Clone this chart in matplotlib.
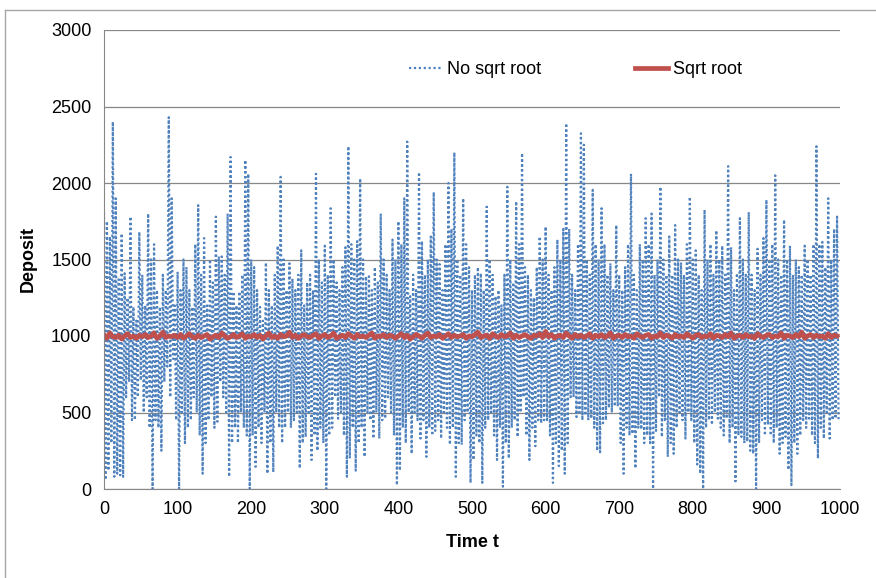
import numpy as np
import matplotlib.pyplot as plt

# deposit without sqrt root, every 2 time steps
no_sqrt = [
    1810, 60, 1750, 120, 1650, 300, 2400, 80, 1900, 100,
    1370, 90, 1670, 80, 1410, 600, 1250, 700, 1780, 450,
    1190, 450, 1100, 600, 1680, 710, 1400, 500, 1200, 600,
    1800, 400, 1500, 0, 1600, 450, 1300, 400, 1190, 250,
    1400, 700, 1300, 800, 2430, 600, 1900, 850, 1200, 450,
    1420, 0, 1300, 500, 1500, 300, 1450, 400, 1300, 450,
    1190, 600, 1600, 500, 1855, 350, 1400, 100, 1640, 300,
    1200, 450, 1500, 600, 1350, 400, 1780, 440, 1520, 700,
    1520, 600, 1400, 500, 1800, 80, 2170, 300, 1290, 400,
    1200, 300, 1290, 500, 1400, 400, 2150, 350, 2060, 0,
    1500, 350, 1450, 145, 1300, 400, 1190, 300, 1100, 500,
    1480, 100, 1300, 300, 1200, 110, 1400, 500, 1590, 400,
    2040, 300, 1500, 400, 1300, 500, 1475, 400, 1375, 450,
    1300, 500, 1400, 135, 1560, 300, 1200, 340, 1350, 500,
    1400, 190, 1300, 350, 2060, 250, 1500, 400, 1350, 300,
    1590, 0, 1400, 350, 1835, 400, 1500, 600, 1350, 460,
    1300, 500, 1450, 350, 1580, 80, 2240, 200, 1600, 400,
    1500, 120, 1620, 300, 2030, 400, 1500, 210, 1390, 500,
    1390, 450, 1300, 330, 1450, 500, 1350, 330, 1800, 450,
    1500, 460, 1400, 600, 1300, 500, 1630, 350, 1500, 25,
    1750, 120, 1600, 400, 1900, 300, 2270, 500, 1260, 230,
    1400, 500, 1300, 450, 2070, 330, 1620, 450, 1400, 210,
    1500, 400, 1650, 350, 1940, 380, 1500, 450, 1470, 330,
    1300, 500, 1600, 400, 2000, 290, 1700, 400, 2200, 80,
    1500, 300, 1400, 290, 1900, 450, 1600, 500, 1450, 40,
    1300, 190, 1400, 350, 1450, 300, 1410, 40, 1300, 400,
    1845, 450, 1500, 500, 1400, 350, 1260, 190, 1300, 400,
    1200, 15, 1400, 300, 1975, 200, 1500, 400, 1350, 450,
    1880, 340, 1600, 500, 2195, 600, 1450, 350, 1400, 190,
    1300, 400, 1250, 280, 1450, 450, 1650, 430, 1500, 450,
    1715, 450, 1400, 350, 1300, 40, 1450, 300, 1630, 150,
    1500, 250, 1700, 100, 2390, 300, 1700, 600, 1400, 600,
    1300, 470, 1600, 500, 2325, 450, 2250, 480, 1500, 450,
    1400, 460, 1955, 400, 1600, 250, 1500, 240, 1835, 430,
    1600, 450, 1400, 530, 1475, 500, 1300, 540, 1725, 540,
    1400, 300, 1300, 100, 1450, 400, 1600, 350, 2060, 360,
    1400, 135, 1300, 400, 1600, 390, 1500, 300, 1770, 350,
    1600, 300, 1800, 0, 1400, 380, 1500, 600, 1975, 340,
    1500, 450, 1400, 210, 1650, 300, 1400, 230, 1725, 400,
    1500, 500, 1480, 450, 1400, 330, 1600, 500, 1910, 450,
    1500, 300, 1560, 160, 1400, 100, 1300, 0, 1825, 400,
    1500, 450, 1600, 420, 1400, 500, 1690, 460, 1500, 400,
    1590, 350, 1400, 460, 2110, 300, 1580, 400, 1300, 50,
    1410, 350, 1770, 340, 1500, 300, 1400, 310, 1810, 250,
    1400, 230, 1300, 0, 1570, 300, 1400, 450, 1640, 350,
    1890, 420, 1500, 350, 1600, 300, 2050, 400, 1500, 230,
    1400, 300, 1760, 340, 1500, 125, 1590, 25, 1400, 300,
    1500, 230, 1450, 350, 1400, 450, 1590, 400, 1500, 460,
    1400, 350, 1600, 300, 2240, 200, 1600, 400, 1615, 330,
    1450, 500, 1900, 330, 1500, 450, 1700, 460, 1780, 450,
]

# deposit with sqrt root, every 4 time steps
sqrt_root = [
    1010, 985, 1020, 995, 990, 1005, 980, 1000, 1015, 990, 1000, 985, 1005, 995, 1010, 990, 1000, 1020, 985, 1000, 1025, 990, 1000, 995, 1005,
    990, 1010, 985, 1000, 1015, 995, 985, 1005, 990, 1000, 1010, 980, 995, 1005, 990, 1020, 1000, 985, 995, 1010, 990, 1000, 1015, 985, 1000,
    995, 1010, 990, 1005, 980, 1000, 1020, 990, 1000, 985, 1010, 995, 1000, 1025, 990, 1005, 985, 1000, 1010, 995, 990, 1005, 1015, 985, 1000,
    1010, 990, 1000, 1020, 985, 995, 1005, 990, 1015, 1000, 985, 1010, 995, 1000, 990, 1005, 1020, 985, 1000, 995, 1010, 990, 1005, 1000, 985,
    1000, 1015, 990, 1005, 980, 995, 1010, 1000, 985, 1005, 1020, 990, 1000, 995, 1010, 985, 1000, 1015, 990, 1005, 995, 1000, 1010, 985, 1000,
    995, 1010, 1025, 990, 1000, 1005, 985, 1015, 1000, 990, 1010, 995, 1000, 1020, 985, 1005, 990, 1000, 1010, 995, 985, 1005, 1000, 1015, 990,
    1030, 995, 1010, 985, 1000, 1005, 990, 1020, 1000, 985, 1010, 995, 1005, 990, 1000, 1015, 985, 1005, 995, 1010, 990, 1000, 1020, 985, 1000,
    1005, 990, 1010, 995, 1000, 985, 1015, 1000, 990, 1005, 1010, 985, 1000, 995, 1020, 990, 1005, 1000, 985, 1010, 995, 1000, 990, 1015, 1000,
    985, 1005, 1010, 990, 1000, 995, 1015, 985, 1005, 1000, 990, 1010, 995, 1020, 985, 1000, 1005, 990, 1010, 995, 1000, 985, 1015, 1000, 990,
    1005, 1010, 990, 1000, 995, 1020, 985, 1005, 1000, 990, 1010, 995, 1025, 985, 1000, 1010, 990, 1005, 995, 1000, 985, 1015, 990, 1005, 1000,
]

blue = "#4F81BD"
red = "#C0504D"

t_no = np.arange(len(no_sqrt)) * 2
t_sq = np.arange(len(sqrt_root)) * 4

plt.rcParams['font.family'] = ['Liberation Sans Narrow', 'Liberation Sans', 'DejaVu Sans']

fig = plt.figure(figsize=(8.76, 5.78), dpi=100)
ax = fig.add_axes([104 / 876, 1 - 489 / 578, 736 / 876, 459 / 578])

ax.plot(t_no, no_sqrt, color=blue, lw=1.6, ls=(0, (1, 1.2)), label="No sqrt root")
ax.plot(t_sq, sqrt_root, color=red, lw=3.4, label="Sqrt root")

ax.set_xlim(0, 1000)
ax.set_ylim(0, 3000)
ax.set_xticks(range(0, 1001, 100))
ax.set_yticks(range(0, 3001, 500))
ax.yaxis.grid(True, color="#878787", lw=0.9)
ax.set_axisbelow(True)
ax.tick_params(length=0, labelsize=13, pad=9)

for s in ["top", "right"]:
    ax.spines[s].set_visible(False)
for s in ["left", "bottom"]:
    ax.spines[s].set_color("#878787")

ax.set_xlabel("Time t", fontsize=13, fontweight="bold", labelpad=11)
ax.set_ylabel("Deposit", fontsize=13, fontweight="bold", labelpad=10)

ax.legend(loc="center", bbox_to_anchor=(0.641, 0.913), ncol=2, frameon=False,
          fontsize=13, handlelength=1.8, handletextpad=0.3, columnspacing=5.2)

# chart border
fig.add_artist(plt.Line2D([5 / 876, 5 / 876], [0, 1 - 10 / 578], color="#A6A6A6", lw=1))
fig.add_artist(plt.Line2D([5 / 876, 1], [1 - 10 / 578, 1 - 10 / 578], color="#A6A6A6", lw=1))

fig.savefig("out.png", dpi=100)
